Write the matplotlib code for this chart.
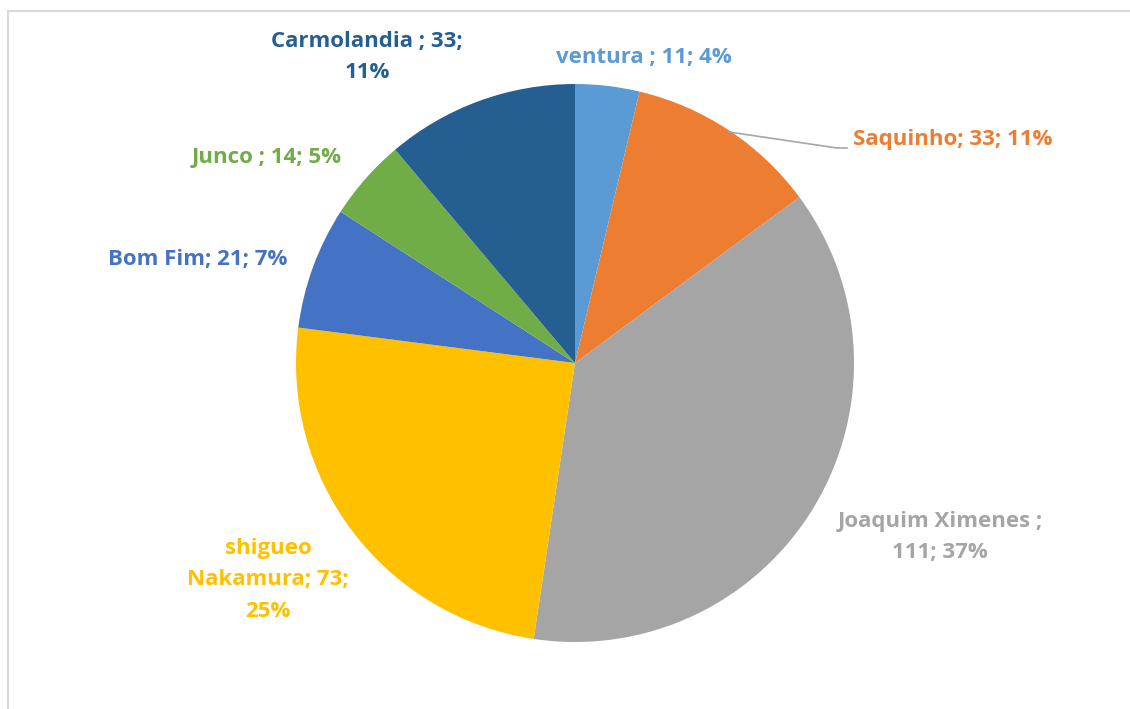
import matplotlib.pyplot as plt
from matplotlib.patches import Rectangle

# slices, clockwise from 12 o'clock
names = ["ventura ", "Saquinho", "Joaquim Ximenes ", "shigueo Nakamura", "Bom Fim", "Junco ", "Carmolandia "]
counts = [11, 33, 111, 73, 21, 14, 33]
pcts = [4, 11, 37, 25, 7, 5, 11]
colors = ["#5B9BD5", "#ED7D31", "#A5A5A5", "#FFC000", "#4472C4", "#70AD47", "#255E91"]

# label text as it wraps in the original chart
label_text = [
    "ventura ; 11; 4%",
    "Saquinho; 33; 11%",
    "Joaquim Ximenes ;\n111; 37%",
    "shigueo\nNakamura; 73;\n25%",
    "Bom Fim; 21; 7%",
    "Junco ; 14; 5%",
    "Carmolandia ; 33;\n11%",
]
# label centres in pixels (x, y from top)
label_pos = [(644, 57), (953, 140), (940, 537), (268, 580), (198, 260), (267, 157), (367, 57)]

W, H = 1130, 709
fig = plt.figure(figsize=(W / 100, H / 100), dpi=100)
ax = fig.add_axes([0, 0, 1, 1])
ax.set_xlim(0, W)
ax.set_ylim(0, H)
ax.set_aspect("equal")
ax.axis("off")

# chart frame
ax.add_patch(Rectangle((8, -10), W + 20, H - 11 + 10, fill=False, edgecolor="#D9D9D9", linewidth=1.5))

ax.pie(counts, colors=colors, startangle=90, counterclock=False,
       center=(575, H - 363), radius=279,
       wedgeprops=dict(linewidth=0))
ax.set_xlim(0, W)
ax.set_ylim(0, H)

for txt, (x, y), c in zip(label_text, label_pos, colors):
    ax.text(x, H - y, txt, color=c, fontsize=16, fontweight="bold",
            family="Open Sans", ha="center", va="center", linespacing=1.65)

# leader line for Saquinho
ax.plot([729, 837, 847], [H - 132, H - 148, H - 148], color="#A6A6A6", linewidth=1.2)

fig.savefig("out.png", dpi=100)
